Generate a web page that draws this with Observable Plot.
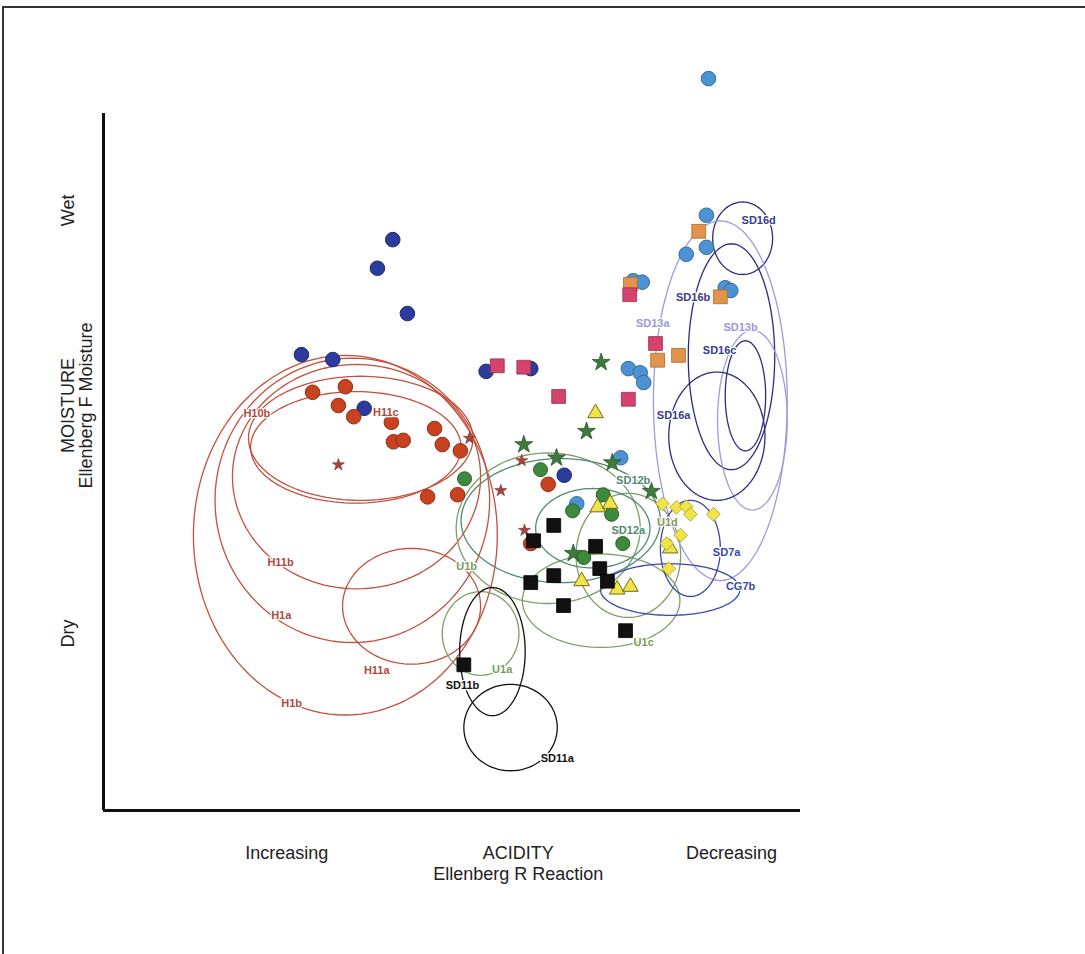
<!DOCTYPE html>
<html>
<head>
<meta charset="utf-8">
<script src="https://cdn.jsdelivr.net/npm/d3@7"></script>
<script src="https://cdn.jsdelivr.net/npm/@observablehq/plot@0.6"></script>
<style>
  html, body { margin: 0; padding: 0; background: #fff; }
  #wrap { position: relative; width: 1085px; height: 954px; overflow: hidden; }
  #frame { position: absolute; left: 2px; top: 6px; width: 1100px; height: 1000px;
           border-top: 2px solid #333; border-left: 2px solid #333; pointer-events: none; }
  #chart { position: absolute; left: 0; top: 0; }
</style>
</head>
<body>
<div id="wrap"><div id="chart"></div><div id="frame"></div></div>
<script>
// ---- Data (Ellenberg R reaction on x, Ellenberg F moisture on y; arbitrary 0-10 units) ----
const darkBlueCircles = [[4.15,8.19],[3.93,7.78],[4.36,7.13],[2.84,6.54],[3.29,6.47],[5.49,6.30],[6.13,6.34],[3.74,5.77],[6.61,4.81]];
const lightBlueCircles = [[8.68,10.50],[8.65,8.54],[8.65,8.08],[8.36,7.98],[7.60,7.60],[7.73,7.58],[8.92,7.50],[9.00,7.46],[7.53,6.34],[7.70,6.28],[7.75,6.14],[7.42,5.06],[6.79,4.40]];
const orangeSquares = [[8.54,8.31],[7.56,7.55],[8.85,7.37],[7.95,6.46],[8.25,6.53]];
const pinkSquares = [[7.55,7.40],[7.92,6.70],[7.53,5.90],[5.65,6.38],[6.03,6.36],[6.53,5.94]];
const greenStars = [[7.14,6.43],[6.93,5.44],[6.03,5.25],[6.50,5.06],[7.30,4.99],[7.86,4.58],[6.74,3.69]];
const brownStars = [[5.25,5.34],[3.37,4.96],[6.00,5.02],[5.70,4.59],[6.04,4.02]];
const redCircles = [[3.00,6.00],[3.47,6.08],[3.37,5.81],[3.59,5.65],[4.13,5.57],[4.16,5.29],[4.30,5.31],[4.75,5.48],[4.86,5.25],[5.12,5.16],[4.65,4.50],[5.08,4.53],[6.38,4.68],[6.13,3.83]];
const greenCircles = [[5.18,4.76],[6.27,4.89],[7.17,4.53],[7.29,4.25],[6.73,4.30],[7.45,3.83],[6.89,3.63]];
const yellowTriangles = [[7.06,5.70],[7.09,4.35],[7.27,4.40],[8.13,3.76],[6.86,3.29],[7.37,3.17],[7.56,3.21]];
const yellowDiamonds = [[8.02,4.40],[8.22,4.35],[8.36,4.36],[8.42,4.25],[8.75,4.25],[8.08,3.83],[8.28,3.95],[8.11,3.47]];
const blackSquares = [[6.46,4.09],[6.17,3.87],[7.06,3.79],[7.12,3.47],[7.23,3.29],[6.46,3.37],[6.13,3.27],[6.60,2.94],[7.49,2.58],[5.17,2.09]];

// Community ellipses: name, group, centre, radii, label anchor
const ellipseNames  = ["H1b","H1a","H11b","H10b","H11c","H11a","U1b","U1a","U1c","U1d","SD12b","SD12a","SD11b","SD11a","SD16d","SD16b","SD13a","SD13b","SD16c","SD16a","SD7a","CG7b"];
const ellipseGroups = ["H","H","H","H","H","H","U","U","U","U","SD12","SD12","SD11","SD11","SD16","SD16","SD13","SD13","SD16","SD16","SD7","SD7"];
const ellipseCx = [3.47,3.57,3.63,3.69,3.62,4.42,6.38,5.41,7.14,7.53,6.56,7.02,5.58,5.84,9.17,9.01,8.85,9.31,9.21,8.80,8.42,8.13];
const ellipseCy = [3.95,4.45,4.79,5.34,5.21,2.93,4.05,2.54,3.01,3.66,4.16,4.05,2.28,1.19,8.21,6.51,5.88,5.60,5.95,5.37,3.76,3.17];
const ellipseRx = [2.18,1.97,1.78,1.61,1.51,0.99,1.32,0.55,1.13,0.75,1.43,0.82,0.47,0.67,0.43,0.62,0.96,0.50,0.29,0.69,0.43,1.00];
const ellipseRy = [2.58,2.04,1.61,0.89,0.80,0.83,1.08,0.60,0.67,0.89,0.89,0.57,0.92,0.62,0.52,1.62,2.58,1.29,0.79,0.92,0.69,0.37];
const labelX = [2.70,2.55,2.54,2.20,4.05,3.92,5.21,5.72,7.75,8.09,7.60,7.53,5.15,6.51,9.40,8.46,7.88,9.14,8.84,8.18,8.94,9.14];
const labelY = [1.54,2.80,3.56,5.70,5.71,2.01,3.50,2.02,2.41,4.13,4.73,4.02,1.79,0.75,8.46,7.36,6.99,6.93,6.60,5.67,3.70,3.21];

const xAxisText = ["Increasing","ACIDITY","Ellenberg R Reaction","Decreasing"];
const xAxisAt   = [2.63, 5.95, 5.95, 9.01];
const xAxisRow  = [-0.62, -0.62, -0.92, -0.62];
const yAxisText = ["Wet","MOISTURE","Ellenberg F Moisture","Dry"];
const yAxisAt   = [8.61, 5.81, 5.81, 2.54];
const yAxisCol  = [-0.50, -0.50, -0.25, -0.50];

// ---- Build tables ----
const groupStroke = {H:"#c4503e", U:"#7f9d68", SD12:"#4f8a72", SD11:"#111111", SD16:"#2c2c80", SD13:"#9c9cdc", SD7:"#3848a8"};
const groupText   = {H:"#b0483e", U:"#7a9a5e", SD12:"#4f8a72", SD11:"#111111", SD16:"#3a3a90", SD13:"#9a9ad8", SD7:"#3848a8"};
const ellipses = ellipseNames.map((name, i) => ({name, group: ellipseGroups[i], cx: ellipseCx[i], cy: ellipseCy[i], rx: ellipseRx[i], ry: ellipseRy[i], lx: labelX[i], ly: labelY[i]}));
const angles = d3.range(0, 361, 3).map(a => a * Math.PI / 180);
const outline = ellipses.flatMap(e => angles.map(t => ({name: e.name, group: e.group, x: e.cx + e.rx * Math.cos(t), y: e.cy + e.ry * Math.sin(t)})));
const pts = arr => arr.map(([x, y]) => ({x, y}));
const xLab = xAxisText.map((t, i) => ({t, x: xAxisAt[i], y: xAxisRow[i]}));
const yLab = yAxisText.map((t, i) => ({t, x: yAxisCol[i], y: yAxisAt[i]}));

const font = "Liberation Sans, Arial, Helvetica, sans-serif";
const dot = (arr, o) => Plot.dot(pts(arr), {x: "x", y: "y", ...o});

const chart = Plot.plot({
  width: 1085,
  height: 954,
  marginLeft: 103,
  marginRight: 285,
  marginBottom: 144,
  marginTop: 43.3,
  x: {domain: [0, 10], axis: null},
  y: {domain: [0, 11], axis: null},
  style: {background: "white", fontFamily: font, overflow: "visible"},
  marks: [
    Plot.line(outline, {x: "x", y: "y", z: "name", stroke: d => groupStroke[d.group], strokeWidth: 1.3, curve: "linear"}),
    dot(darkBlueCircles,  {r: 7.3, fill: "#2b3c9e", stroke: "#1e2a70", strokeWidth: 1}),
    dot(lightBlueCircles, {r: 7.3, fill: "#4d92d2", stroke: "#336a9e", strokeWidth: 1}),
    dot(redCircles,       {r: 7.3, fill: "#c9421f", stroke: "#8e2e18", strokeWidth: 1}),
    dot(greenCircles,     {r: 7.0, fill: "#3d8a3d", stroke: "#2a5e2a", strokeWidth: 1}),
    dot(orangeSquares,    {symbol: "square", r: 7.8, fill: "#e2944c", stroke: "#a86a30", strokeWidth: 0.8}),
    dot(pinkSquares,      {symbol: "square", r: 7.8, fill: "#d3436c", stroke: "#98304e", strokeWidth: 0.8}),
    dot(greenStars,       {symbol: "star", r: 5.6, fill: "#3d7a3d", stroke: "#2a552a", strokeWidth: 0.8}),
    dot(brownStars,       {symbol: "star", r: 3.8, fill: "#a8453e", stroke: "#7a302a", strokeWidth: 0.6}),
    dot(yellowTriangles,  {symbol: "triangle", r: 5.8, fill: "#f2e445", stroke: "#6d6a20", strokeWidth: 1}),
    dot(yellowDiamonds,   {symbol: "diamond2", r: 6.2, fill: "#f2e445", stroke: "#a09a30", strokeWidth: 0.8}),
    dot(blackSquares,     {symbol: "square", r: 7.8, fill: "#111111", stroke: "#000", strokeWidth: 0.8}),
    Plot.text(ellipses, {x: "lx", y: "ly", text: "name", fill: d => groupText[d.group],
      fontSize: 11, fontWeight: "bold", stroke: "white", strokeWidth: 2.5, paintOrder: "stroke"}),
    Plot.ruleY([0], {x1: 0, x2: 10, stroke: "#111", strokeWidth: 3}),
    Plot.ruleX([0], {y1: 0, y2: 10, stroke: "#111", strokeWidth: 3}),
    Plot.text(xLab, {x: "x", y: "y", text: "t", fontSize: 18, fill: "#222", lineAnchor: "middle"}),
    Plot.text(yLab, {x: "x", y: "y", text: "t", fontSize: 18, fill: "#222", rotate: -90, lineAnchor: "middle"})
  ],
  color: {type: "identity"}
});
document.getElementById("chart").appendChild(chart);
</script>
</body>
</html>
